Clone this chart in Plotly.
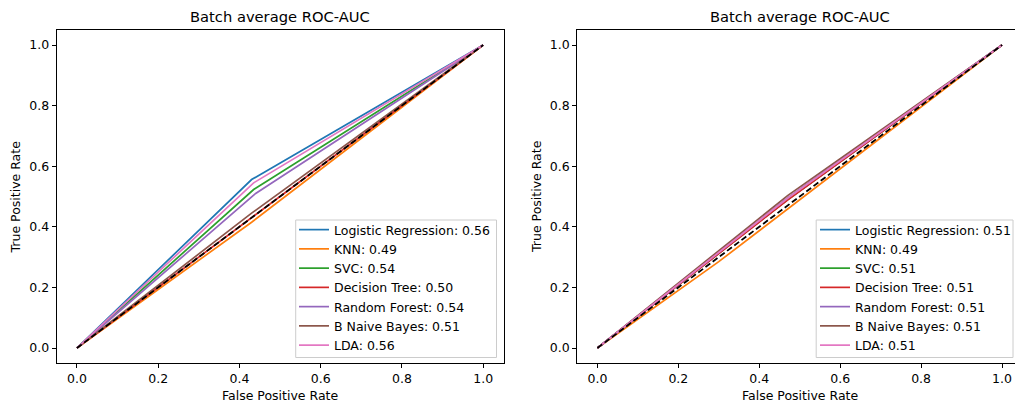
import plotly.graph_objects as go

W, H = 1016, 405

models = ["Logistic Regression", "KNN", "SVC", "Decision Tree", "Random Forest", "B Naive Bayes", "LDA"]
colors = ["#1f77b4", "#ff7f0e", "#2ca02c", "#d62728", "#9467bd", "#8c564b", "#e377c2"]

# left panel: (fpr, tpr) operating point for each model, plus reported AUC
left_fpr = [0.43, 0.43, 0.435, 0.43, 0.44, 0.43, 0.435]
left_tpr = [0.556, 0.415, 0.523, 0.43, 0.51, 0.445, 0.545]
left_auc = [0.56, 0.49, 0.54, 0.50, 0.54, 0.51, 0.56]

# right panel
right_fpr = [0.47, 0.30, 0.47, 0.47, 0.47, 0.47, 0.47]
right_tpr = [0.49, 0.285, 0.49, 0.488, 0.495, 0.503, 0.494]
right_auc = [0.51, 0.49, 0.51, 0.51, 0.51, 0.51, 0.51]

ticks = [0.0, 0.2, 0.4, 0.6, 0.8, 1.0]
tick_text = ["0.0", "0.2", "0.4", "0.6", "0.8", "1.0"]

title_text = "Batch average ROC-AUC"
xlabel = "False Positive Rate"
ylabel = "True Positive Rate"

FONT = "DejaVu Sans"
FS = 12.5
fig = go.Figure()

for i, m in enumerate(models):
    fig.add_trace(go.Scatter(
        x=[0, left_fpr[i], 1], y=[0, left_tpr[i], 1], mode="lines",
        line=dict(color=colors[i], width=1.7),
        name=f"{m}: {left_auc[i]:.2f}", xaxis="x", yaxis="y", legend="legend"))
fig.add_trace(go.Scatter(x=[0, 1], y=[0, 1], mode="lines",
                         line=dict(color="black", width=1.8, dash="6px,3px"),
                         showlegend=False, xaxis="x", yaxis="y"))

for i, m in enumerate(models):
    fig.add_trace(go.Scatter(
        x=[0, right_fpr[i], 1], y=[0, right_tpr[i], 1], mode="lines",
        line=dict(color=colors[i], width=1.7),
        name=f"{m}: {right_auc[i]:.2f}", xaxis="x2", yaxis="y2", legend="legend2"))
fig.add_trace(go.Scatter(x=[0, 1], y=[0, 1], mode="lines",
                         line=dict(color="black", width=1.8, dash="6px,3px"),
                         showlegend=False, xaxis="x2", yaxis="y2"))

# pixel geometry
L1, R1 = 56.65, 504.0
L2 = 577.75
TOP, BOT = 29.85, 363.15
right_units = (W - L2) / 405.0

common_axis = dict(showgrid=False, zeroline=False, showline=True, linecolor="black",
                   linewidth=1, ticks="outside", ticklen=4, tickwidth=1, tickcolor="black",
                   tickvals=ticks, ticktext=tick_text,
                   tickfont=dict(family=FONT, size=FS, color="black"))

legend_common = dict(xanchor="left", yanchor="top",
                     bgcolor="rgba(0,0,0,0)", borderwidth=0,
                     font=dict(family=FONT, size=FS, color="black"), tracegroupgap=0, itemwidth=30)

fig.update_layout(
    width=W, height=H, margin=dict(l=0, r=0, t=0, b=0),
    paper_bgcolor="white", plot_bgcolor="white",
    font=dict(family=FONT, size=FS, color="black"),
    xaxis=dict(domain=[L1 / W, R1 / W], range=[-0.05, 1.05], anchor="y", mirror=True, **common_axis),
    yaxis=dict(domain=[1 - BOT / H, 1 - TOP / H], range=[-0.05, 1.05], anchor="x", mirror=True, **common_axis),
    xaxis2=dict(domain=[L2 / W, 1.0], range=[-0.05, -0.05 + right_units], anchor="y2", mirror=True, **common_axis),
    yaxis2=dict(domain=[1 - BOT / H, 1 - TOP / H], range=[-0.05, 1.05], anchor="x2", mirror=False, **common_axis),
    legend=dict(x=294 / W, y=1 - 215 / H, **legend_common),
    legend2=dict(x=815.5 / W, y=1 - 215 / H, **legend_common),
)

# legend frames (matplotlib-style box, semi-transparent white)
for x0, x1 in [(296, 497), (817, 1014)]:
    fig.add_shape(type="rect", xref="paper", yref="paper",
                  x0=x0 / W, x1=x1 / W, y0=1 - 357.5 / H, y1=1 - 220 / H,
                  line=dict(color="#cccccc", width=1), fillcolor="rgba(255,255,255,0.8)",
                  layer="above")

ann = []
for cx in [(L1 + R1) / 2, (L2 + 1023) / 2]:
    ann.append(dict(text=title_text, x=cx / W, y=1 - 17 / H, xref="paper", yref="paper",
                    showarrow=False, font=dict(family=FONT, size=14.7, color="black"),
                    xanchor="center", yanchor="middle"))
    ann.append(dict(text=xlabel, x=cx / W, y=1 - 395 / H, xref="paper", yref="paper",
                    showarrow=False, font=dict(family=FONT, size=FS, color="black"),
                    xanchor="center", yanchor="middle"))
for lx in [16, 537]:
    ann.append(dict(text=ylabel, x=lx / W, y=1 - ((TOP + BOT) / 2) / H, xref="paper", yref="paper",
                    showarrow=False, textangle=-90, font=dict(family=FONT, size=FS, color="black"),
                    xanchor="center", yanchor="middle"))
fig.update_layout(annotations=ann)

fig.write_html("out.html", config={"displayModeBar": False},
               post_script="document.body.style.margin='0px';document.body.style.overflow='hidden';")
